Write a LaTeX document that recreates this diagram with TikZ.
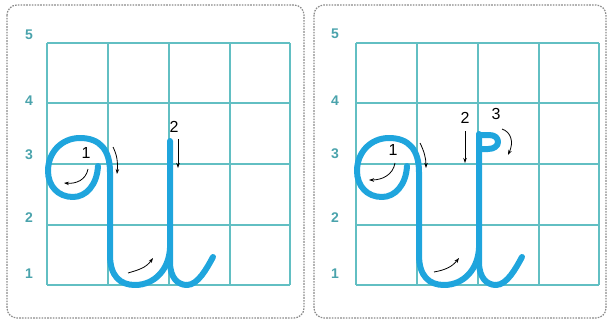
\documentclass[tikz,border=0pt]{standalone}
\usepackage{fontspec}
\setmainfont{Liberation Sans}
\usetikzlibrary{arrows.meta}
\definecolor{gridc}{HTML}{62BFC3}
\definecolor{axisc}{HTML}{4AA3AC}
\definecolor{inkc}{HTML}{1FA5DD}
\definecolor{framec}{HTML}{8A8A8A}
\tikzset{
  panel/.style={draw=framec, line width=1.2pt, dash pattern=on 1.6pt off 1.2pt, rounded corners=10pt},
  gridline/.style={draw=gridc, line width=1.3pt},
  axislabel/.style={text=axisc, font=\fontsize{14}{14}\selectfont\bfseries, inner sep=0pt},
  steplabel/.style={text=black, font=\fontsize{16}{16}\selectfont, inner sep=0pt},
  ink/.style={draw=inkc, line width=6pt, line cap=round, line join=round},
  guide/.style={draw=black, line width=0.8pt, -{Stealth[length=5pt,width=3.5pt]}},
  letterbase/.pic={
    \draw[ink] (98,166) .. controls (97,185) and (86,197) .. (73,197)
      .. controls (58,197) and (48,186) .. (48,171)
      .. controls (48,152) and (62,138) .. (80,138)
      .. controls (100,138) and (110,150) .. (110,172)
      -- (110,255) .. controls (110,276) and (120,285) .. (135,285)
      .. controls (154,285) and (169,270) .. (170,248);
    \draw[ink] (187,285) .. controls (198,285) and (207,268) .. (213,257);
  }
}
\begin{document}
\begin{tikzpicture}[x=1pt,y=-1pt]
\useasboundingbox (0,0) rectangle (608,321);
% frames
\draw[panel] (7,5) rectangle (304,318);
\draw[panel] (314,5) rectangle (606,318);
% grids
\foreach \dx/\lx in {0/29,309/335}{
  \foreach \gx in {47,108,169,230,290}
    \draw[gridline] (\gx+\dx,43) -- (\gx+\dx,285);
  \foreach \gy in {43,103,164,225,285}
    \draw[gridline] (47+\dx,\gy) -- (290+\dx,\gy);
}
% axis labels left
\node[axislabel] (l5) at (29,35) {5};
\node[axislabel] (l4) at (29,101) {4};
\node[axislabel] (l3) at (29,155) {3};
\node[axislabel] (l2) at (29,218) {2};
\node[axislabel] (l1) at (29,274) {1};
% axis labels right
\node[axislabel] (r5) at (335,34) {5};
\node[axislabel] (r4) at (335,101) {4};
\node[axislabel] (r3) at (335,154) {3};
\node[axislabel] (r2) at (335,218) {2};
\node[axislabel] (r1) at (335,274) {1};
% left letter
\pic at (0,0) {letterbase};
\draw[ink] (170,141) -- (170,262) .. controls (170,278) and (178,285) .. (187,285);
% right letter
\pic at (309,0) {letterbase};
\draw[ink] (479,134) -- (479,262) .. controls (479,278) and (487,285) .. (496,285);
\draw[ink] (479,135) -- (489,135) .. controls (495,135) and (498,138) .. (498,142)
  .. controls (498,146) and (494,149) .. (488,149) -- (480,149);
% left guides
\node[steplabel] (a1) at (86,153) {1};
\node[steplabel] (a2) at (174,127) {2};
\draw[guide] (88,169) .. controls (86,180) and (76,184) .. (64,183);
\draw[guide] (113,147) .. controls (117,155) and (118,162) .. (117,174);
\draw[guide] (178,139) -- (178,168);
\draw[guide] (128,273) .. controls (138,270) and (146,268) .. (153,258);
% right guides
\node[steplabel] (b1) at (393,150) {1};
\node[steplabel] (b2) at (465,118) {2};
\node[steplabel] (b3) at (496,114) {3};
\draw[guide] (395,163) .. controls (393,175) and (382,180) .. (369,180);
\draw[guide] (420,143) .. controls (424,151) and (426,158) .. (426,168);
\draw[guide] (465,131) -- (465,163);
\draw[guide] (502,129) .. controls (511,132) and (514,142) .. (508,155);
\draw[guide] (434,272) .. controls (445,270) and (452,267) .. (459,258);
\end{tikzpicture}
\end{document}
